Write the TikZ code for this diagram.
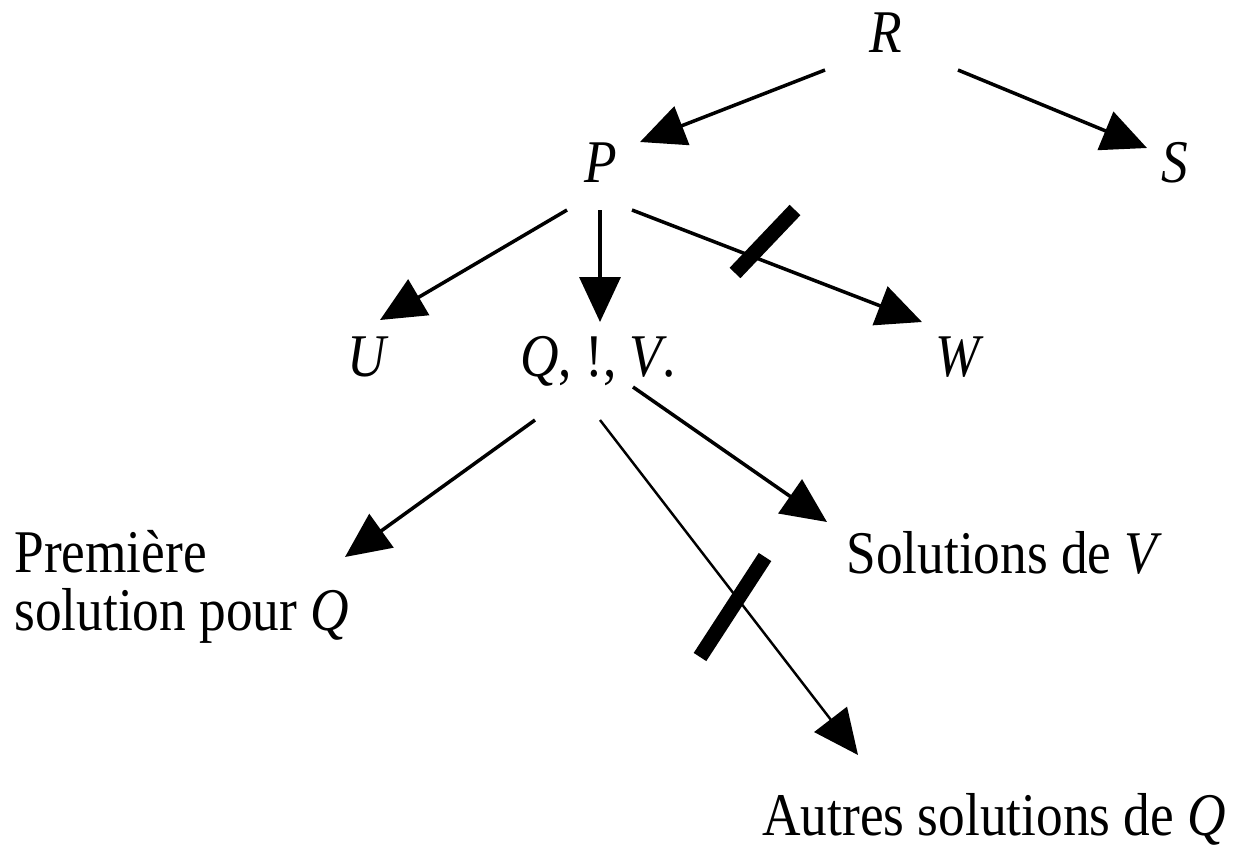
\documentclass[tikz,border=0pt]{standalone}
\usepackage{fontspec}
\setmainfont{Liberation Serif}[FakeStretch=0.88]
\usetikzlibrary{arrows.meta}
\newcommand\lblfont{\fontsize{34.5}{32.5}\selectfont\lineskiplimit=-20pt\relax}
\begin{document}
\begin{tikzpicture}[x=0.02cm,y=-0.02cm,
  lbl/.style={inner sep=0pt, font=\lblfont},
  arr/.style={line width=2pt, -{Triangle[length=0.9cm,width=0.82cm]}},
  barre/.style={line width=0.3cm},
]
\useasboundingbox (0,0) rectangle (1241,849);
% nodes
\node[lbl, anchor=base] (R) at (886,52) {\textit{R}};
\node[lbl, anchor=base] (S) at (1175,182) {\textit{S}};
\node[lbl, anchor=base] (P) at (601,182) {\textit{P}};
\node[lbl, anchor=base] (U) at (368,376) {\textit{U}};
\node[lbl, anchor=base west] (Q) at (520,376) {\textit{Q}, !, \textit{V}.};
\node[lbl, anchor=base] (W) at (960,376) {\textit{W}};
\node[lbl, anchor=base west, align=left] (PS) at (14,630) {Première\\solution pour \textit{Q}};
\node[lbl, anchor=base west] (SV) at (846,573) {Solutions de \textit{V}};
\node[lbl, anchor=base west] (AS) at (762,835) {Autres solutions de \textit{Q}};
% connector end points
\coordinate (R-p) at (825,70);   \coordinate (P-r) at (640,142);
\coordinate (R-s) at (958,70);   \coordinate (S-r) at (1147,148);
\coordinate (P-u) at (567,210);  \coordinate (U-p) at (380,320);
\coordinate (P-q) at (600,210);  \coordinate (Q-p) at (600,322);
\coordinate (P-w) at (632,210);  \coordinate (W-p) at (922,322);
\coordinate (Q-ps) at (535,420); \coordinate (PS-q) at (345,557);
\coordinate (Q-as) at (600,420); \coordinate (AS-q) at (858,755);
\coordinate (Q-sv) at (633,387); \coordinate (SV-q) at (827,522);
% bars
\coordinate (B1a) at (735,273); \coordinate (B1b) at (795,210);
\coordinate (B2a) at (700,657); \coordinate (B2b) at (765,557);
% connectors
\draw[arr] (R-p) -- (P-r);
\draw[arr] (R-s) -- (S-r);
\draw[arr] (P-u) -- (U-p);
\draw[arr] (P-q) -- (Q-p);
\draw[arr] (P-w) -- (W-p);
\draw[arr] (Q-ps) -- (PS-q);
\draw[arr, line width=1.4pt] (Q-as) -- (AS-q);
\draw[arr] (Q-sv) -- (SV-q);
\draw[barre] (B1a) -- (B1b);
\draw[barre] (B2a) -- (B2b);
\end{tikzpicture}
\end{document}
